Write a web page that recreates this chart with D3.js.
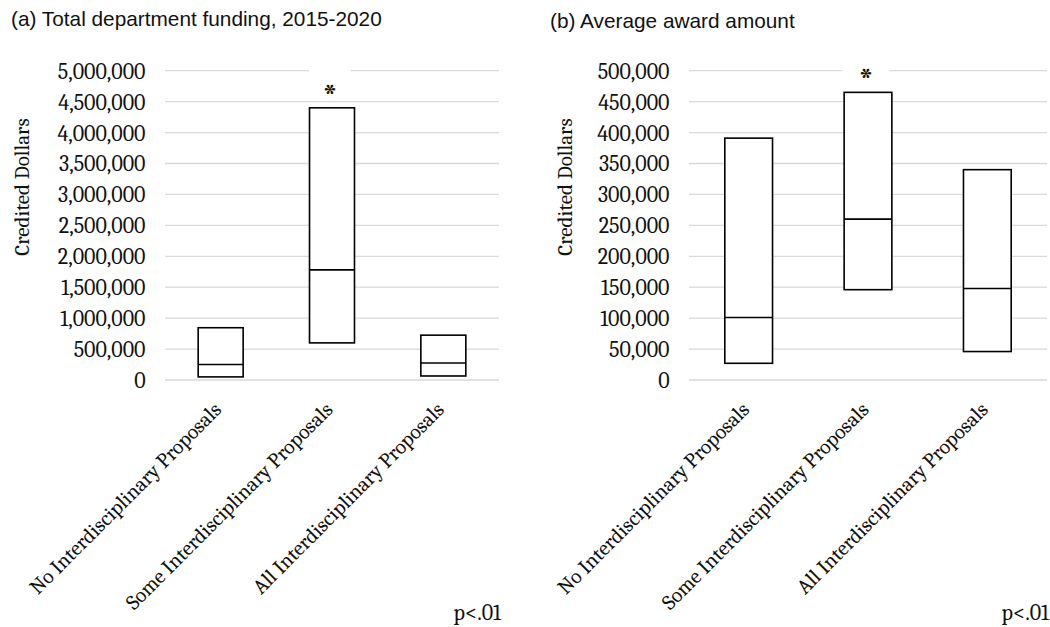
<!DOCTYPE html>
<html>
<head>
<meta charset="utf-8">
<script src="https://cdn.jsdelivr.net/npm/d3@7"></script>
<style>
  html, body { margin: 0; padding: 0; background: #fff; }
  svg { display: block; }
  .serif { font-family: Cambria, "Liberation Serif", "DejaVu Serif", serif; fill: #111; }
  .sans { font-family: "Liberation Sans", Arial, Helvetica, sans-serif; fill: #111; }
</style>
</head>
<body>
<svg id="chart" width="1050" height="627"></svg>
<script>
// Groups of departments by share of interdisciplinary proposals
const categories = [
  "No Interdisciplinary Proposals",
  "Some Interdisciplinary Proposals",
  "All Interdisciplinary Proposals"
];

// (a) Total department funding, 2015-2020 (credited dollars)
const fundingLow  = [50000, 600000, 65000];
const fundingMid  = [250000, 1780000, 275000];
const fundingHigh = [845000, 4400000, 725000];
const fundingTicks = [0, 500000, 1000000, 1500000, 2000000, 2500000,
                      3000000, 3500000, 4000000, 4500000, 5000000];

// (b) Average award amount (credited dollars)
const awardLow  = [27000, 146000, 46000];
const awardMid  = [101000, 260000, 148000];
const awardHigh = [391000, 465000, 340000];
const awardTicks = [0, 50000, 100000, 150000, 200000, 250000,
                    300000, 350000, 400000, 450000, 500000];

// Significance markers per group and the note under each panel
const significant = [false, true, false];
const pNote = "p<.01";

const svg = d3.select("#chart");
const fmt = d3.format(",");

function drawPanel(opt) {
  const g = svg.append("g");
  const x = d3.scaleBand().domain(categories).range([opt.left, opt.right]).padding(0);
  const y = d3.scaleLinear().domain([0, d3.max(opt.ticks)]).range([380, 70.7]);

  // Title
  g.append("text").attr("class", "sans")
    .attr("x", opt.titleX).attr("y", opt.titleY)
    .attr("font-size", 20.8)
    .text(opt.title);

  // Horizontal gridlines
  g.append("g").selectAll("line").data(opt.ticks).join("line")
    .attr("x1", opt.left).attr("x2", opt.right)
    .attr("y1", d => y(d)).attr("y2", d => y(d))
    .attr("stroke", "#d9d9d9").attr("stroke-width", 1.3);

  // Y axis labels
  const yAxis = d3.axisLeft(y).tickValues(opt.ticks).tickFormat(fmt).tickSize(0).tickPadding(19.5);
  const ya = g.append("g").attr("transform", `translate(${opt.left},0)`).call(yAxis);
  ya.select(".domain").remove();
  ya.selectAll("text").attr("class", "serif")
    .attr("font-size", 22).attr("font-family", null).attr("fill", "#111")
    .attr("dy", "0.34em");

  // Y axis title
  g.append("text").attr("class", "serif")
    .attr("font-size", 21)
    .attr("text-anchor", "middle")
    .attr("transform", `translate(${opt.yTitleX},187) rotate(-90)`)
    .text("Credited Dollars");

  // Boxes: lower to upper bound, with a line at the middle value
  const bw = x.bandwidth() * opt.boxFrac;
  const idx = d3.range(categories.length);
  const boxes = g.append("g").selectAll("g").data(idx).join("g");
  boxes.append("rect")
    .attr("x", i => x(categories[i]) + (x.bandwidth() - bw) / 2)
    .attr("width", bw)
    .attr("y", i => y(opt.high[i]))
    .attr("height", i => y(opt.low[i]) - y(opt.high[i]))
    .attr("fill", "#fff").attr("stroke", "#000").attr("stroke-width", 1.6);
  boxes.append("line")
    .attr("x1", i => x(categories[i]) + (x.bandwidth() - bw) / 2)
    .attr("x2", i => x(categories[i]) + (x.bandwidth() + bw) / 2)
    .attr("y1", i => y(opt.mid[i])).attr("y2", i => y(opt.mid[i]))
    .attr("stroke", "#000").attr("stroke-width", 1.6);

  // Significance asterisk with white label background
  const sig = idx.filter(i => significant[i]);
  const lab = g.append("g").selectAll("g").data(sig).join("g")
    .attr("transform", i => `translate(${x(categories[i]) + x.bandwidth() / 2 - 2},${y(opt.high[i]) - 20})`);
  lab.append("rect")
    .attr("x", -opt.gapW / 2).attr("width", opt.gapW)
    .attr("y", -19).attr("height", 31)
    .attr("fill", "#fff");
  lab.append("text").attr("class", "serif")
    .attr("font-size", 36).attr("font-weight", 300).attr("text-anchor", "middle")
    .attr("y", 20)
    .text("*");

  // Category labels, rotated
  g.append("g").selectAll("text").data(categories).join("text")
    .attr("class", "serif")
    .attr("font-size", 21)
    .attr("text-anchor", "end")
    .attr("transform", d => `translate(${x(d) + x.bandwidth() / 2 + 2},411) rotate(-45)`)
    .text(d => d);

  // Significance note
  g.append("text").attr("class", "serif")
    .attr("font-size", 22).attr("text-anchor", "end")
    .attr("x", opt.right + 2).attr("y", 620)
    .text(pNote);
}

drawPanel({
  title: "(a) Total department funding, 2015-2020",
  titleX: 11, titleY: 26,
  left: 165, right: 499,
  ticks: fundingTicks,
  low: fundingLow, mid: fundingMid, high: fundingHigh,
  yTitleX: 29, boxFrac: 0.404, gapW: 42
});

drawPanel({
  title: "(b) Average award amount",
  titleX: 550, titleY: 28,
  left: 689, right: 1047,
  ticks: awardTicks,
  low: awardLow, mid: awardMid, high: awardHigh,
  yTitleX: 572, boxFrac: 0.4, gapW: 47
});
</script>
</body>
</html>
